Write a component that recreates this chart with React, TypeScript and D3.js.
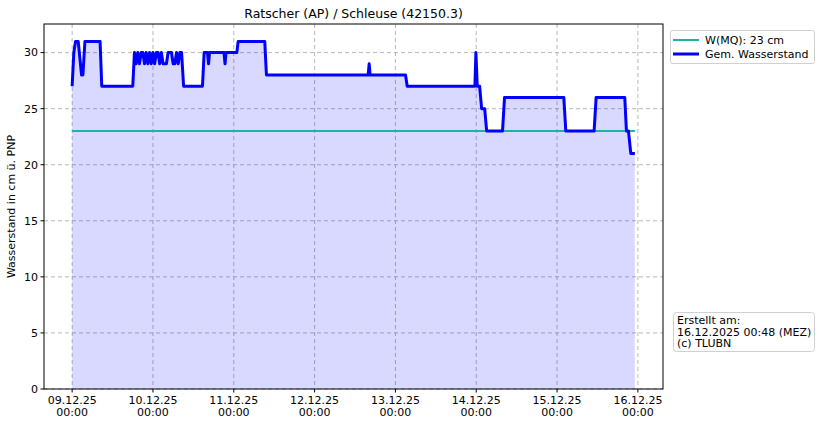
import * as d3 from 'd3';

// readings: hours after 09.12.25 00:00 and level in cm
const hours = [
  0, 0.5, 1.0, 1.8, 2.8, 3.2, 3.8, 8.3, 8.8, 18.0,
  18.5, 19, 19.5, 20, 20.5, 21, 21.5, 22, 22.5, 23, 23.5, 24, 24.5, 25, 25.5, 26, 26.5, 27, 28, 28.5,
  29.5, 30, 30.5, 31, 31.5, 32, 32.5, 33.1,
  38.7, 39.2, 40.2, 40.5, 40.8, 45.1, 45.4, 45.7, 48.9, 49.3, 57.2, 57.7,
  87.9, 88.2, 88.5, 99.0, 99.5,
  119.6, 119.9, 120.3, 121.0, 121.6, 122.5, 123.1, 127.8, 128.4,
  146.0, 146.6, 155.0, 155.6, 164.1, 164.6, 165.2, 165.9, 167.1,
];
const level = [
  27, 30, 31, 31, 28, 28, 31, 31, 27, 27,
  30, 29, 30, 29, 30, 30, 29, 30, 29, 30, 29, 30, 29, 30, 30, 29, 30, 29, 29, 30,
  30, 29, 29, 30, 29, 30, 30, 27,
  27, 30, 30, 29, 30, 30, 29, 30, 30, 31, 31, 28,
  28, 29, 28, 28, 27,
  27, 30, 27, 27, 25, 25, 23, 23, 26,
  26, 23, 23, 26, 26, 23, 23, 21, 21,
];
const mqLevel = 23;
const yTicks = [0, 5, 10, 15, 20, 25, 30];
const legendLabels = ['W(MQ): 23 cm', 'Gem. Wasserstand'];
const infoLines = ['Erstellt am:', '16.12.2025 00:48 (MEZ)', '(c) TLUBN'];

const t0 = new Date(2025, 11, 9, 0, 0);
const toDate = (h: number) => new Date(t0.getTime() + h * 3600e3);

export default function App() {
  const W = 822, H = 426;
  const left = 44, right = 663, top = 24, bottom = 389;
  const font = 'DejaVu Sans, sans-serif';

  const points = hours.map((h, i) => ({ t: toDate(h), v: level[i] }));
  const [tMin, tMax] = d3.extent(points, d => d.t.getTime()) as [number, number];
  const pad = (tMax - tMin) * 0.05;
  const x = d3.scaleTime().domain([new Date(tMin - pad), new Date(tMax + pad)]).range([left, right]);
  const yMax = (d3.max(level) || 0) * 1.05;
  const y = d3.scaleLinear().domain([0, yMax]).range([bottom, top]);

  const dayTicks = d3.timeDay.range(toDate(0), toDate(7 * 24 + 1));
  const fmtDate = d3.timeFormat('%d.%m.%y');
  const fmtTime = d3.timeFormat('%H:%M');

  const line = d3.line<{ t: Date; v: number }>().x(d => x(d.t)).y(d => y(d.v));
  const area = d3.area<{ t: Date; v: number }>().x(d => x(d.t)).y0(y(0)).y1(d => y(d.v));

  return (
    <svg width={W} height={H} style={{ position: 'absolute', left: 0, top: 0, background: '#fff' }} fontFamily={font}>
      <text x={(left + right) / 2} y={18} textAnchor="middle" fontSize={12.5}>Ratscher (AP) / Schleuse (42150.3)</text>

      {/* grid */}
      {yTicks.map(t => (
        <line key={'gy' + t} x1={left} x2={right} y1={y(t)} y2={y(t)} stroke="#b0b0b0" strokeWidth={0.9} strokeDasharray="4,3" />
      ))}
      {dayTicks.map(d => (
        <line key={'gx' + d.getTime()} x1={x(d)} x2={x(d)} y1={top} y2={bottom} stroke="#b0b0b0" strokeWidth={0.9} strokeDasharray="4,3" />
      ))}

      <path d={area(points) || ''} fill="#0000ff" fillOpacity={0.15} />
      <line x1={x(toDate(hours[0]))} x2={x(toDate(hours[hours.length - 1]))} y1={y(mqLevel)} y2={y(mqLevel)} stroke="#20b2aa" strokeWidth={2} />
      <path d={line(points) || ''} fill="none" stroke="#0000ff" strokeWidth={3} strokeLinejoin="round" />

      {/* frame */}
      <rect x={left} y={top} width={right - left} height={bottom - top} fill="none" stroke="#000" strokeWidth={1} />

      {/* y axis */}
      {yTicks.map(t => (
        <g key={'ty' + t}>
          <line x1={left - 3.5} x2={left} y1={y(t)} y2={y(t)} stroke="#000" />
          <text x={left - 6} y={y(t)} dy="0.35em" textAnchor="end" fontSize={11}>{t}</text>
        </g>
      ))}
      <text transform={`translate(15,${(top + bottom) / 2}) rotate(-90)`} textAnchor="middle" fontSize={11}>Wasserstand in cm ü. PNP</text>

      {/* x axis */}
      {dayTicks.map(d => (
        <g key={'tx' + d.getTime()}>
          <line x1={x(d)} x2={x(d)} y1={bottom} y2={bottom + 3.5} stroke="#000" />
          <text x={x(d)} y={bottom + 15} textAnchor="middle" fontSize={11}>{fmtDate(d)}</text>
          <text x={x(d)} y={bottom + 27} textAnchor="middle" fontSize={11}>{fmtTime(d)}</text>
        </g>
      ))}

      {/* legend */}
      <rect x={670.5} y={30.5} width={144} height={33} rx={2} fill="#fff" stroke="#d0d0d0" />
      <line x1={673} x2={699} y1={40} y2={40} stroke="#20b2aa" strokeWidth={2} />
      <line x1={673} x2={699} y1={54} y2={54} stroke="#0000ff" strokeWidth={3} />
      {legendLabels.map((l, i) => (
        <text key={l} x={705} y={40 + i * 14} dy="0.35em" fontSize={11}>{l}</text>
      ))}

      {/* info box */}
      <rect x={673.5} y={312.5} width={141} height={39} rx={3} fill="#fff" stroke="#d0d0d0" />
      {infoLines.map((l, i) => (
        <text key={l} x={677} y={324 + i * 11.5} fontSize={11}>{l}</text>
      ))}
    </svg>
  );
}
